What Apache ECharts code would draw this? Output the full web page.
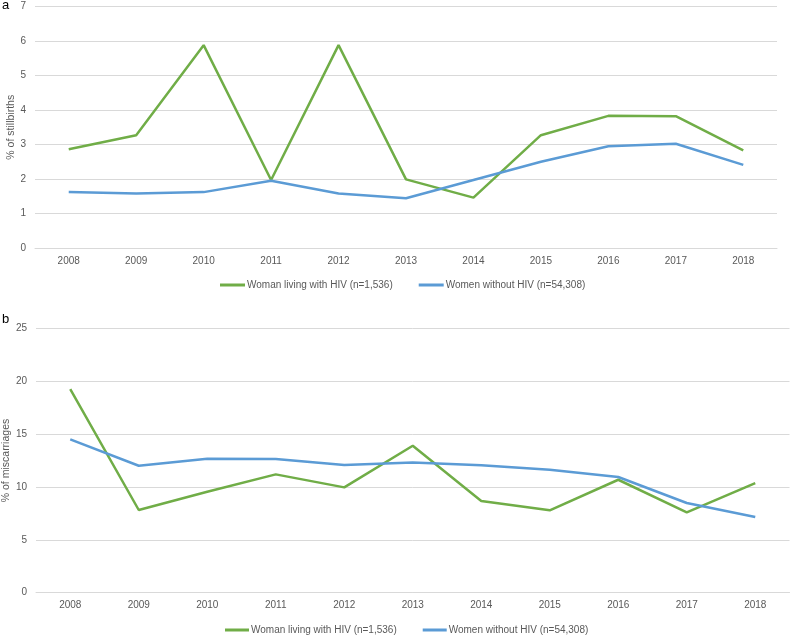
<!DOCTYPE html>
<html><head><meta charset="utf-8">
<script src="https://cdn.jsdelivr.net/npm/echarts@6/dist/echarts.min.js"></script>
<style>html,body{margin:0;padding:0;background:#fff}#c{width:791px;height:637px}</style>
</head><body><div id="c"></div>
<script>
const years = ['2008','2009','2010','2011','2012','2013','2014','2015','2016','2017','2018'];
const nameHIV = 'Woman living with HIV (n=1,536)';
const nameNo = 'Women without HIV (n=54,308)';
const stillHIV = [2.86, 3.27, 5.88, 1.97, 5.88, 1.99, 1.46, 3.27, 3.83, 3.82, 2.83];
const stillNo = [1.62, 1.58, 1.62, 1.95, 1.58, 1.44, 1.97, 2.50, 2.95, 3.02, 2.41];
const miscHIV = [19.25, 7.82, 9.55, 11.19, 9.96, 13.9, 8.67, 7.79, 10.68, 7.6, 10.37];
const miscNo = [14.5, 12.0, 12.67, 12.64, 12.07, 12.32, 12.04, 11.63, 10.94, 8.48, 7.15];

const green = '#70AD47', blue = '#5B9BD5', txt = '#595959', grid = '#D9D9D9';
const font = 'Liberation Sans';
const chart = echarts.init(document.getElementById('c'));
function xAx(i){return {type:'category',gridIndex:i,data:years,boundaryGap:true,
  axisLine:{show:true,lineStyle:{color:grid,width:1}},axisTick:{show:false},
  axisLabel:{color:txt,fontSize:10,fontFamily:font,margin:8}};}
function yAx(i,max,interval,name,gap){return {type:'value',gridIndex:i,min:0,max:max,interval:interval,
  name:name,nameLocation:'middle',nameGap:gap,nameMoveOverlap:false,
  nameTextStyle:{color:txt,fontSize:10.5,fontFamily:font,verticalAlign:'middle'},
  axisLine:{show:false},axisTick:{show:false},
  axisLabel:{color:txt,fontSize:10,fontFamily:font,margin:9},
  splitLine:{lineStyle:{color:grid,width:1}}};}
function ser(name,data,color,i){return {type:'line',name:name,data:data,xAxisIndex:i,yAxisIndex:i,
  symbol:'none',lineStyle:{color:color,width:2.5},itemStyle:{color:color},animation:false};}
chart.setOption({
  animation:false,
  grid:[{left:35,right:14,top:6.5,height:241.5,containLabel:false,outerBoundsMode:'none'},
        {left:36,right:1.5,top:328.3,height:264.4,containLabel:false,outerBoundsMode:'none'}],
  xAxis:[xAx(0),xAx(1)],
  yAxis:[yAx(0,7,1,'% of stillbirths',24),yAx(1,25,5,'% of miscarriages',30)],
  legend:[
    {left:215,top:275,itemWidth:25,itemHeight:3,icon:'rect',itemGap:26,
     textStyle:{color:txt,fontSize:10,fontFamily:font,padding:[0,0,0,-3]},data:[nameHIV,nameNo]},
    {left:220,top:620,itemWidth:24,itemHeight:3,icon:'rect',itemGap:26,
     textStyle:{color:txt,fontSize:10,fontFamily:font,padding:[0,0,0,-3]},data:[nameHIV,nameNo]}
  ],
  graphic:[
    {type:'text',left:2,top:-1,style:{text:'a',fill:'#000',fontSize:13,fontFamily:font}},
    {type:'text',left:2,top:313,style:{text:'b',fill:'#000',fontSize:13,fontFamily:font}}
  ],
  series:[ser(nameHIV,stillHIV,green,0),ser(nameNo,stillNo,blue,0),
          ser(nameHIV,miscHIV,green,1),ser(nameNo,miscNo,blue,1)]
});
</script></body></html>
